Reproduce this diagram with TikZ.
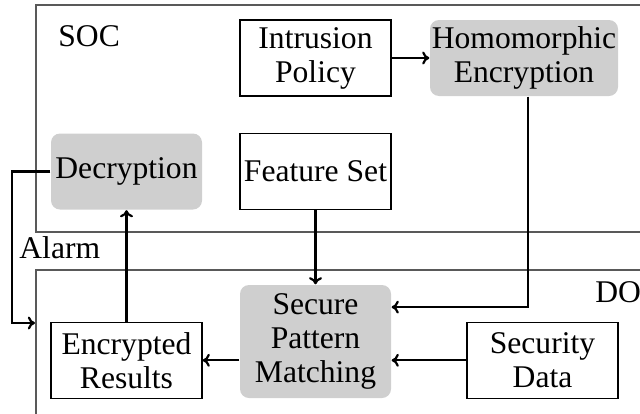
\documentclass[tikz,border=0pt]{standalone}
\usepackage{fontspec}
\setmainfont{Liberation Serif}
\usetikzlibrary{arrows.meta}
\begin{document}
\begin{tikzpicture}[x=0.5pt,y=-0.5pt,
  every node/.style={font=\fontsize{15.8}{17}\selectfont},
  plainbox/.style={draw=black, line width=0.65pt, minimum width=75.5pt,
    minimum height=38pt, inner sep=0pt, align=center},
  graybox/.style={plainbox, draw=none, fill=black!19, rounded corners=4.5pt},
  frame/.style={draw=black!65, line width=0.7pt},
  arr/.style={line width=1.1pt, -{To[length=3.6pt,width=6.5pt]}},
  lbl/.style={anchor=base west, inner sep=0pt}]
  \useasboundingbox (0,0) rectangle (640,413);
  \clip (0,0) rectangle (640,413);

  % zone frames
  \draw[frame] (36,5) rectangle (720,232);
  \draw[frame] (36,270) rectangle (720,460);
  \node[lbl] (soc) at (58,46) {SOC};
  \node[lbl] (do) at (595,302) {DO};
  \node[lbl] (alarm) at (19,258) {Alarm};

  % SOC side
  \node[plainbox] (ip) at (315.5,58) {Intrusion\\Policy};
  \node[graybox]  (he) at (524,58) [minimum width=94pt] {Homomorphic\\Encryption};
  \node[graybox]  (dec) at (126.5,171.5) {Decryption};
  \node[plainbox] (fs) at (315.5,171.5) {Feature Set};

  % DO side
  \node[graybox]  (spm) at (315.5,341.5) [minimum height=56.5pt] {Secure\\Pattern\\Matching};
  \node[plainbox] (er) at (126.5,360.3) {Encrypted\\Results};
  \node[plainbox] (sd) at (542.5,360.3) {Security\\Data};

  % flows
  \coordinate (alarmend) at (35,323);
  \draw[arr] (ip.east) -- (he.west);
  \draw[arr] ([xshift=1.8pt]he.south) |- ([yshift=17.2pt]spm.east);
  \draw[arr] (fs.south) -- (spm.north);
  \draw[arr] (sd.west) -- (spm.east |- sd.west);
  \draw[arr] (spm.west |- er.east) -- (er.east);
  \draw[arr] (er.north) -- (dec.south);
  \draw[arr] (dec.west) -- ++(-38,0) |- (alarmend);
\end{tikzpicture}
\end{document}
